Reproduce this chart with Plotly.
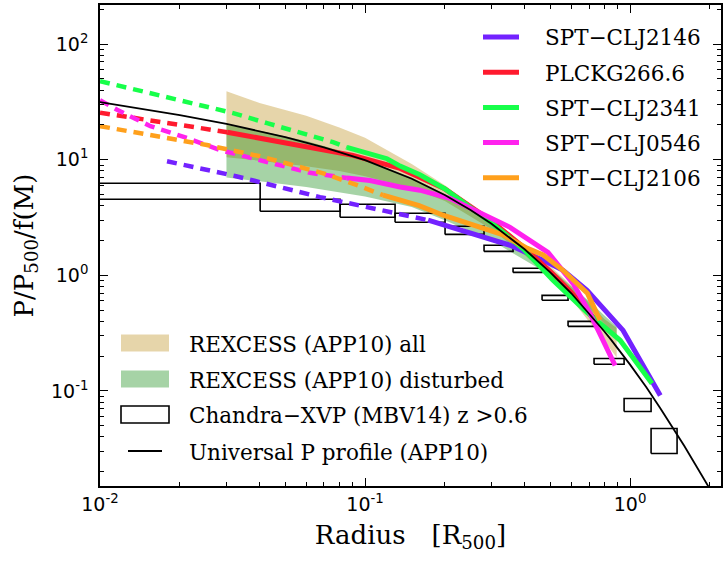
import plotly.graph_objects as go

# ---------------- data ----------------
# Universal pressure profile (APP10)
x_univ = [0.01, 0.015, 0.02, 0.03, 0.05, 0.07, 0.1, 0.15, 0.2, 0.25, 0.3, 0.4, 0.5, 0.6, 0.7,
          0.8, 0.85, 1.0, 1.15, 1.3, 1.6, 1.8, 2.0, 2.4]
p_univ = [31.5, 27.2, 24.3, 20.4, 15.7, 12.8, 9.9, 6.85, 4.95, 3.68, 2.79, 1.68, 1.06, 0.70, 0.47,
          0.327, 0.275, 0.169, 0.108, 0.071, 0.0336, 0.0215, 0.0142, 0.0067]

# REXCESS bands
band_x = [0.03, 0.04, 0.06, 0.08, 0.1, 0.15, 0.2, 0.3, 0.4, 0.5, 0.6, 0.7, 0.8, 0.89]
all_hi = [39, 31, 24, 19, 15.5, 9.2, 6.0, 3.0, 1.85, 1.2, 0.82, 0.58, 0.42, 0.35]
all_lo = [10.5, 9.8, 8.8, 8.0, 7.2, 5.7, 4.4, 2.5, 1.5, 0.95, 0.62, 0.40, 0.27, 0.195]
dist_hi = [20, 17.8, 14.5, 12, 10, 7.0, 5.0, 2.85, 1.75, 1.15, 0.8, 0.6, 0.45, 0.36]
dist_lo = [7.0, 6.5, 5.8, 5.2, 4.8, 3.9, 3.0, 2.0, 1.35, 1.0, 0.72, 0.52, 0.38, 0.28]

# Chandra-XVP (MBV14) z>0.6 boxes: radial bin edges and pressure range
box_x0 = [0.009, 0.0402, 0.0805, 0.1298, 0.2004, 0.2812, 0.3618, 0.4655, 0.5834, 0.7312, 0.9493, 1.200]
box_x1 = [0.0402, 0.0805, 0.1298, 0.2004, 0.2812, 0.3618, 0.4655, 0.5834, 0.7312, 0.9493, 1.200, 1.504]
box_y0 = [4.55, 3.58, 3.18, 2.88, 2.26, 1.61, 1.06, 0.608, 0.362, 0.170, 0.0665, 0.0288]
box_y1 = [6.26, 4.55, 4.12, 3.44, 2.66, 1.82, 1.15, 0.671, 0.400, 0.191, 0.0861, 0.0473]

# clusters: dashed (extrapolated) part and solid (measured) part
names = ["SPT\u2212CLJ2146", "PLCKG266.6", "SPT\u2212CLJ2341", "SPT\u2212CLJ0546", "SPT\u2212CLJ2106"]
colors = ["#7322ff", "#ff1a2e", "#17ff4a", "#ff22ee", "#ffa01c"]

c2146_dash_x = [0.0179, 0.0326, 0.0676, 0.152, 0.173]
c2146_dash_y = [9.7, 7.2, 4.75, 3.2, 3.0]
c2146_x = [0.173, 0.279, 0.3525, 0.47, 0.559, 0.688, 0.941, 1.30]
c2146_y = [3.0, 2.13, 1.82, 1.35, 1.105, 0.741, 0.334, 0.0914]

c2666_dash_x = [0.01, 0.0302]
c2666_dash_y = [25.5, 17.3]
c2666_x = [0.0302, 0.0637, 0.09, 0.1356, 0.2, 0.3, 0.4, 0.5, 0.6, 0.75]
c2666_y = [17.3, 12.8, 10.9, 8.4, 5.6, 2.95, 1.72, 1.08, 0.71, 0.40]

c2341_dash_x = [0.01, 0.0238, 0.0318, 0.0427, 0.0568, 0.0757, 0.0854]
c2341_dash_y = [47.8, 29.6, 25.3, 20.7, 17.3, 14.2, 12.8]
c2341_x = [0.0854, 0.1, 0.121, 0.1356, 0.161, 0.2, 0.25, 0.3, 0.4, 0.512, 0.688, 0.917, 1.21]
c2341_y = [12.8, 11.5, 10.2, 8.8, 7.4, 5.6, 3.9, 2.85, 1.65, 0.906, 0.478, 0.274, 0.116]

c0546_dash_x = [0.01, 0.0116, 0.0155, 0.0213, 0.0284, 0.0378, 0.0438, 0.062, 0.0854]
c0546_dash_y = [32.7, 27.0, 19.5, 15.4, 12.1, 10.2, 9.3, 7.7, 6.95]
c0546_x = [0.0854, 0.1045, 0.1356, 0.161, 0.209, 0.279, 0.3525, 0.49, 0.609, 0.706, 0.878]
c0546_y = [6.95, 6.6, 5.8, 5.45, 4.64, 3.37, 2.6, 1.58, 0.853, 0.469, 0.166]

c2106_dash_x = [0.01, 0.0133, 0.0253, 0.0402, 0.0521, 0.0696, 0.0933, 0.117]
c2106_dash_y = [19.5, 17.3, 13.4, 10.7, 9.15, 7.63, 6.03, 4.93]
c2106_x = [0.117, 0.16, 0.197, 0.27, 0.33, 0.41, 0.47, 0.56, 0.69, 0.77]
c2106_y = [4.93, 4.0, 3.31, 2.6, 2.25, 1.71, 1.5, 1.1, 0.70, 0.41]

ref_names = ["REXCESS (APP10) all", "REXCESS (APP10) disturbed",
             "Chandra\u2212XVP (MBV14) z >0.6", "Universal P profile (APP10)"]

x_tickvals = [0.01, 0.1, 1]
x_ticktext = ["10<sup>-2</sup>", "10<sup>-1</sup>", "10<sup>0</sup>"]
y_tickvals = [0.1, 1, 10, 100]
y_ticktext = ["10<sup>-1</sup>", "10<sup>0</sup>", "10<sup>1</sup>", "10<sup>2</sup>"]
x_minor = [m * d for d in (0.01, 0.1, 1) for m in range(2, 10)]
y_minor = [m * d for d in (0.01, 0.1, 1, 10, 100) for m in range(2, 10)]

# ---------------- figure ----------------
TAN = "rgba(184,134,11,0.35)"
GRN = "rgba(0,128,0,0.35)"
fig = go.Figure()

fig.add_trace(go.Scatter(x=band_x + band_x[::-1], y=all_hi + all_lo[::-1], fill="toself",
                         fillcolor=TAN, mode="lines", line=dict(width=0), showlegend=False,
                         hoverinfo="skip"))
fig.add_trace(go.Scatter(x=band_x + band_x[::-1], y=dist_hi + dist_lo[::-1], fill="toself",
                         fillcolor=GRN, mode="lines", line=dict(width=0), showlegend=False,
                         hoverinfo="skip"))

bx, by = [], []
for a, b, lo, hi in zip(box_x0, box_x1, box_y0, box_y1):
    bx += [a, b, b, a, a, None]
    by += [lo, lo, hi, hi, lo, None]
fig.add_trace(go.Scatter(x=bx, y=by, mode="lines", line=dict(color="black", width=1.6),
                         showlegend=False, hoverinfo="skip"))

clusters = [
    (c2146_dash_x, c2146_dash_y, c2146_x, c2146_y),
    (c2666_dash_x, c2666_dash_y, c2666_x, c2666_y),
    (c2341_dash_x, c2341_dash_y, c2341_x, c2341_y),
    (c0546_dash_x, c0546_dash_y, c0546_x, c0546_y),
    (c2106_dash_x, c2106_dash_y, c2106_x, c2106_y),
]
for (dx, dy, sx, sy), nm, col in zip(clusters, names, colors):
    fig.add_trace(go.Scatter(x=dx, y=dy, mode="lines", name=nm,
                             line=dict(color=col, width=4.5, dash="10px,7px"), showlegend=False))
    fig.add_trace(go.Scatter(x=sx, y=sy, mode="lines", name=nm,
                             line=dict(color=col, width=5), showlegend=False))

fig.add_trace(go.Scatter(x=x_univ, y=p_univ, mode="lines", line=dict(color="black", width=1.8),
                         showlegend=False, name=ref_names[3]))

# ---------------- legends (drawn in plot-pixel positions) ----------------
L, R, T, B = 100, 721, 5, 486
def px(xp):
    return (xp - L) / (R - L)
def py(yp):
    return (B - yp) / (B - T)

SERIF = "DejaVu Serif"
LEG_SIZE = 21.5
shapes = []
annotations = []
for i, (nm, col) in enumerate(zip(names, colors)):
    yc = 37 + i * 35.2
    shapes.append(dict(type="line", xref="paper", yref="paper", x0=px(483), x1=px(519),
                       y0=py(yc), y1=py(yc), line=dict(color=col, width=5)))
    annotations.append(dict(xref="paper", yref="paper", x=px(543), y=py(yc + 1), text=nm,
                            showarrow=False, xanchor="left", yanchor="middle",
                            font=dict(family=SERIF, size=LEG_SIZE, color="black")))

rows = [343, 379, 414.5, 451]
fills = [TAN, GRN, "rgba(255,255,255,0)"]
for i in range(3):
    shapes.append(dict(type="rect", xref="paper", yref="paper", x0=px(121), x1=px(169),
                       y0=py(rows[i] - 8.5), y1=py(rows[i] + 8.5), fillcolor=fills[i],
                       line=dict(color="black" if i == 2 else "rgba(0,0,0,0)", width=1.6)))
shapes.append(dict(type="line", xref="paper", yref="paper", x0=px(128), x1=px(162),
                   y0=py(rows[3]), y1=py(rows[3]), line=dict(color="black", width=1.8)))
for i, nm in enumerate(ref_names):
    annotations.append(dict(xref="paper", yref="paper", x=px(187), y=py(rows[i] + 1), text=nm,
                            showarrow=False, xanchor="left", yanchor="middle",
                            font=dict(family=SERIF, size=LEG_SIZE, color="black")))

axis_common = dict(type="log", showgrid=False, zeroline=False, showline=True, linecolor="black",
                   linewidth=1.5, mirror="allticks", ticks="inside", ticklen=8, tickwidth=1,
                   tickcolor="black", tickmode="array", automargin=False,
                   tickfont=dict(family="DejaVu Sans", size=19, color="black"))

fig.update_layout(
    width=727, height=563,
    margin=dict(l=L, r=727 - R, t=T, b=563 - B, autoexpand=False),
    paper_bgcolor="white", plot_bgcolor="white",
    xaxis=dict(axis_common, range=[-2, 0.343], tickvals=x_tickvals, ticktext=x_ticktext,
               minor=dict(tickmode="array", tickvals=x_minor, ticks="inside", ticklen=4,
                          tickcolor="black", showgrid=False),
               title=dict(text="Radius\u2002\u2002[R<sub>500</sub>]",
                          font=dict(family=SERIF, size=26, color="black"), standoff=12)),
    yaxis=dict(axis_common, range=[-1.822, 2.338], tickvals=y_tickvals, ticktext=y_ticktext,
               ticklabelstandoff=6,
               minor=dict(tickmode="array", tickvals=y_minor, ticks="inside", ticklen=4,
                          tickcolor="black", showgrid=False),
               title=dict(text="P/P<sub>500</sub>/f(M)",
                          font=dict(family=SERIF, size=26, color="black"), standoff=10)),
    shapes=shapes, annotations=annotations, showlegend=False,
)

fig.write_html("out.html", config={"displayModeBar": False},
               post_script="document.body.style.margin='0px';")
